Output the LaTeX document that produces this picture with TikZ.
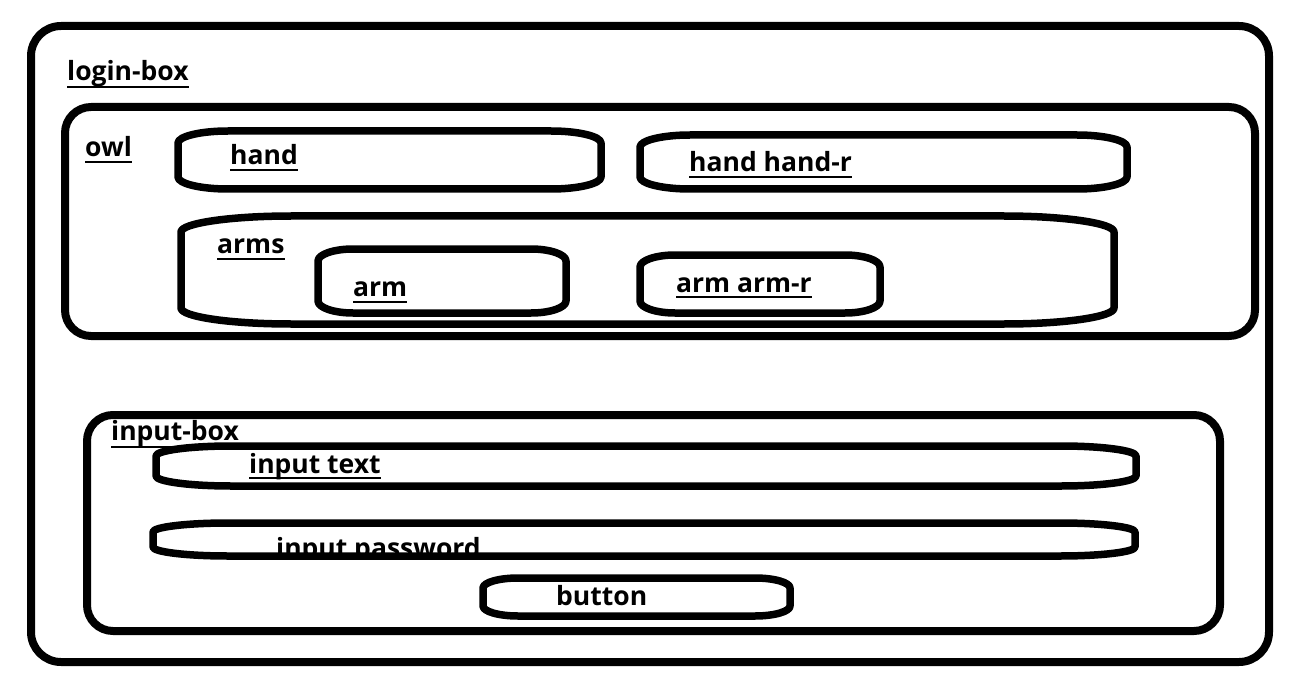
\documentclass[tikz,border=0pt]{standalone}
\usepackage{fontspec}
\setmainfont{Open Sans}
\begin{document}
\begin{tikzpicture}[x=1pt,y=-1pt,
  boxline/.style={draw=black, line width=7.5pt, line join=round},
  lbl/.style={anchor=base west, inner sep=0pt, font=\fontsize{26.5}{29}\selectfont\bfseries, text=black},
  ul/.style={draw=black, line width=2pt}]
\newcommand\pillbox[6]{\draw[boxline]
  ({#1+#5},#2) -- ({#3-#5},#2)
  .. controls ({#3-0.45*#5},#2) and (#3,{#2+0.45*#6}) .. (#3,{#2+#6})
  -- (#3,{#4-#6})
  .. controls (#3,{#4-0.45*#6}) and ({#3-0.45*#5},#4) .. ({#3-#5},#4)
  -- ({#1+#5},#4)
  .. controls ({#1+0.45*#5},#4) and (#1,{#4-0.45*#6}) .. (#1,{#4-#6})
  -- (#1,{#2+#6})
  .. controls (#1,{#2+0.45*#6}) and ({#1+0.45*#5},#2) .. ({#1+#5},#2) -- cycle;}
\newcommand\ulabel[2]{\draw[ul] ([yshift=-#2]#1.base west) -- ([yshift=-#2]#1.base east);}
\useasboundingbox (0,0) rectangle (1301,687);
\fill[white] (0,0) rectangle (1301,687);

% outer boxes
\draw[boxline, line width=8pt, rounded corners=30pt] (31,26) rectangle (1269,662);
\draw[boxline, line width=8pt, rounded corners=26pt] (65,107) rectangle (1255,336);
\draw[boxline, line width=8pt, rounded corners=26pt] (87,415) rectangle (1220,631);

% owl children
\pillbox{178}{131}{601}{189}{50}{12}
\pillbox{640}{135}{1127}{189}{50}{12}
\pillbox{181}{216}{1114}{324}{110}{16}
\pillbox{318}{249}{566}{313}{35}{12}
\pillbox{640}{255}{880}{313}{35}{12}

% labels
\node[lbl] (tlogin) at (67,81) {login-box};
\ulabel{tlogin}{6pt}
\node[lbl] (towl) at (85,157) {owl};
\ulabel{towl}{5pt}
\node[lbl] (thand) at (230,165) {hand};
\ulabel{thand}{5pt}
\node[lbl] (thandr) at (689,172) {hand hand-r};
\ulabel{thandr}{5pt}
\node[lbl] (tarms) at (217,254) {arms};
\ulabel{tarms}{5pt}
\node[lbl] (tarm) at (353,296) {arm};
\ulabel{tarm}{6pt}
\node[lbl] (tarmr) at (676,292) {arm arm-r};
\ulabel{tarmr}{4.5pt}

% input area
\node[lbl] (tinputbox) at (111,440) {input-box};
\ulabel{tinputbox}{6.5pt}
\pillbox{156}{446}{1136}{486}{75}{10}
\node[lbl] (tinputtext) at (249,473) {input text};
\ulabel{tinputtext}{5pt}
\begin{scope}
\clip (0,0) rectangle (1301,553);
\node[lbl] (tpassword) at (276,557) {input password};
\end{scope}
\pillbox{153}{523}{1135}{556}{75}{9}
\pillbox{483}{578}{790}{616}{35}{10}
\node[lbl] (tbutton) at (556,605) {button};
\end{tikzpicture}
\end{document}
